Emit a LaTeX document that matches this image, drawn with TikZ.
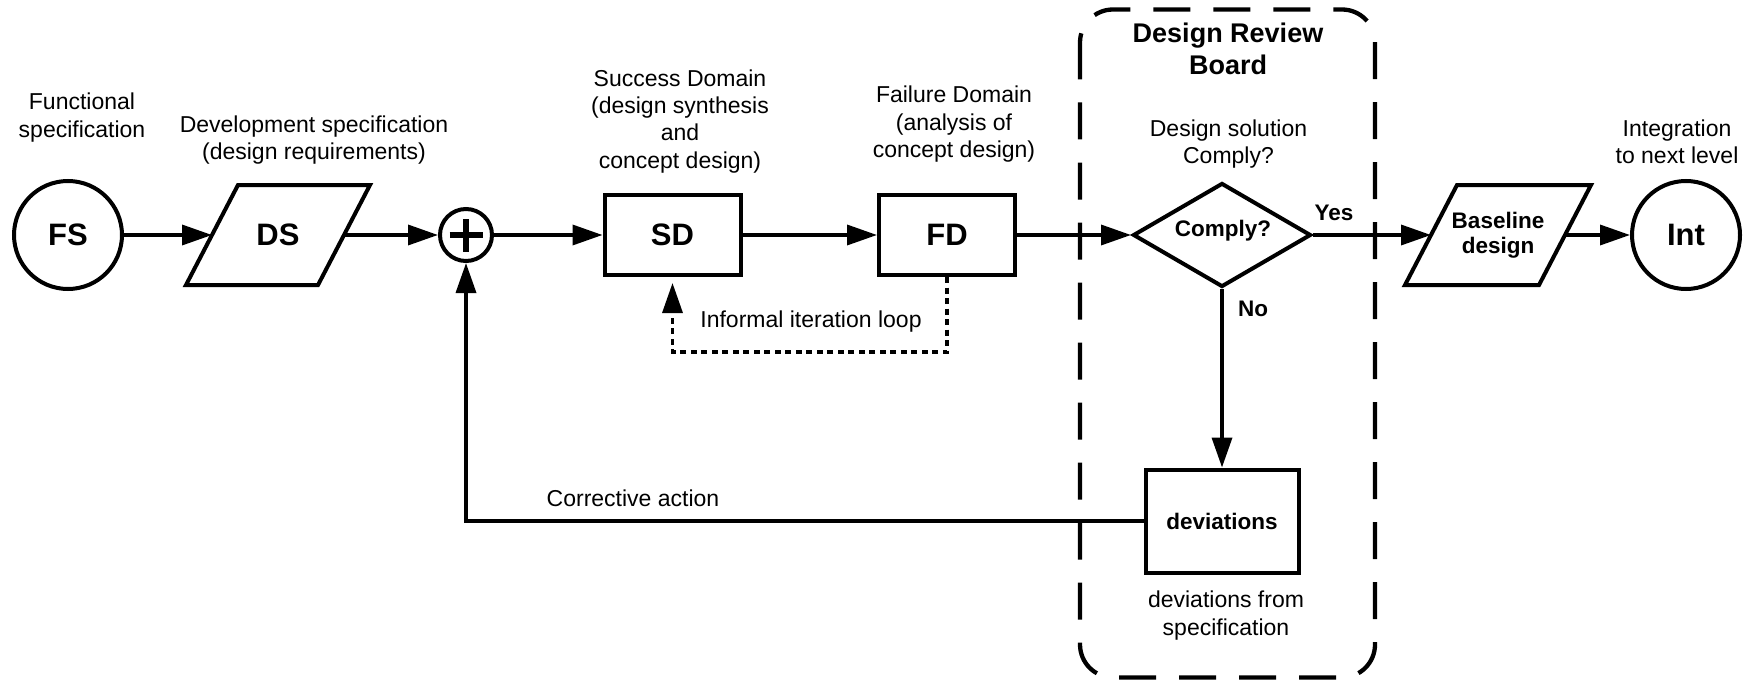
\documentclass[tikz,border=0pt]{standalone}
\usepackage{fontspec}
\setmainfont{Liberation Sans}
\usetikzlibrary{shapes.geometric,arrows.meta}
\tikzset{
  shp/.style={draw, line width=4pt, inner sep=0pt},
  paraline/.style={line width=4pt, line join=miter},
  bigbold/.style={font=\fontsize{31}{36}\selectfont\bfseries},
  smallbold/.style={font=\fontsize{22.5}{25}\selectfont\bfseries},
  circ/.style={shp, circle, minimum size=108pt, bigbold},
  box/.style={shp, rectangle, minimum width=136pt, minimum height=80pt, bigbold},
  dec/.style={shp, diamond, aspect=1.71, minimum width=178pt, minimum height=104pt, smallbold},
  lbl/.style={inner sep=0pt, align=center, font=\fontsize{23}{27.2}\selectfont},
  blbl/.style={inner sep=0pt, smallbold},
  conn/.style={line width=3.5pt, -{Triangle[length=30pt,width=20pt]}},
  loopline/.style={line width=3.3pt, dash pattern=on 6pt off 4.5pt, -{Triangle[length=30pt,width=20pt]}},
  board/.style={line width=4.3pt, dash pattern=on 37pt off 23pt, rounded corners=33pt},
}
\begin{document}
\begin{tikzpicture}[x=1pt,y=-1pt]
\useasboundingbox (0,0) rectangle (1753,682);

% review board frame
\draw[board] (1080,9.5) rectangle (1375,677.5);

% main nodes
\node[circ] (fs) at (68,235) {FS};

\node[inner sep=0pt, bigbold] (ds) at (278,235) {DS};
\draw[paraline] (238,185) -- (370,185) -- (318,285) -- (186,285) -- cycle;
\coordinate (ds-w) at (212,235);
\coordinate (ds-e) at (344,235);

\node[shp, circle, minimum size=52pt] (plus) at (466,235) {};
\draw[line width=5.5pt] ([xshift=-16.5pt]plus.center) -- ([xshift=16.5pt]plus.center);
\draw[line width=5.5pt] ([yshift=-16.5pt]plus.center) -- ([yshift=16.5pt]plus.center);
\node[box] (sd) at (672.5,235) {SD};
\node[box] (fd) at (947,235) {FD};
\node[dec] (dia) at (1222,235) {};
\node[blbl, anchor=base] (comply) at (1223,236) {Comply?};

\node[inner sep=0pt, smallbold, align=center] (bl) at (1498,235) {Baseline\\design};
\draw[paraline] (1457,185) -- (1591,185) -- (1539,285) -- (1405,285) -- cycle;
\coordinate (bl-w) at (1431,235);
\coordinate (bl-e) at (1565,235);

\node[circ] (int) at (1686,235) {Int};
\node[shp, rectangle, minimum width=153pt, minimum height=103pt, smallbold] (dev) at (1222,521) {deviations};

% labels
\node[lbl, anchor=north] (lfs) at (82,93) {Functional\\specification};
\node[lbl, anchor=north] (lds) at (314,115.6) {Development specification\\(design requirements)};
\node[lbl, anchor=north] (lsd) at (680,69.6) {Success Domain\\(design synthesis\\and\\concept design)};
\node[lbl, anchor=north] (lfd) at (954,86) {Failure Domain\\(analysis of\\concept design)};
\node[lbl, anchor=north] (ldia) at (1228.5,119.6) {Design solution\\Comply?};
\node[lbl, anchor=north] (lint) at (1677,119.6) {Integration\\to next level};
\node[inner sep=0pt, align=center, anchor=north, font=\fontsize{27}{32}\selectfont\bfseries] (title) at (1228,23) {Design Review\\Board};
\node[blbl, anchor=base] (yes) at (1334,220) {Yes};
\node[blbl, anchor=base] (no) at (1253,316) {No};
\node[lbl, anchor=base] (lca) at (633,506.7) {Corrective action};
\node[lbl, anchor=base] (lil) at (811,327) {Informal iteration loop};
\node[lbl, anchor=north] (ldev) at (1226,591) {deviations from\\specification};

% connectors
\draw[conn] (fs) -- (ds-w);
\draw[conn] (ds-e) -- (plus);
\draw[conn] (plus) -- (sd);
\draw[conn] (sd) -- (fd);
\draw[conn] (fd) -- (dia);
\draw[conn] (dia) -- (bl-w);
\draw[conn] (bl-e) -- (int);
\draw[conn] (dia) -- (dev);
\draw[conn] (dev.west) -| (plus.south);
\coordinate (loopR) at (947,352);
\coordinate (loopL) at (672.5,352);
\draw[loopline, shorten >=6pt] (fd.south) -- (loopR) -- (loopL) -- (sd.south);
\end{tikzpicture}
\end{document}
